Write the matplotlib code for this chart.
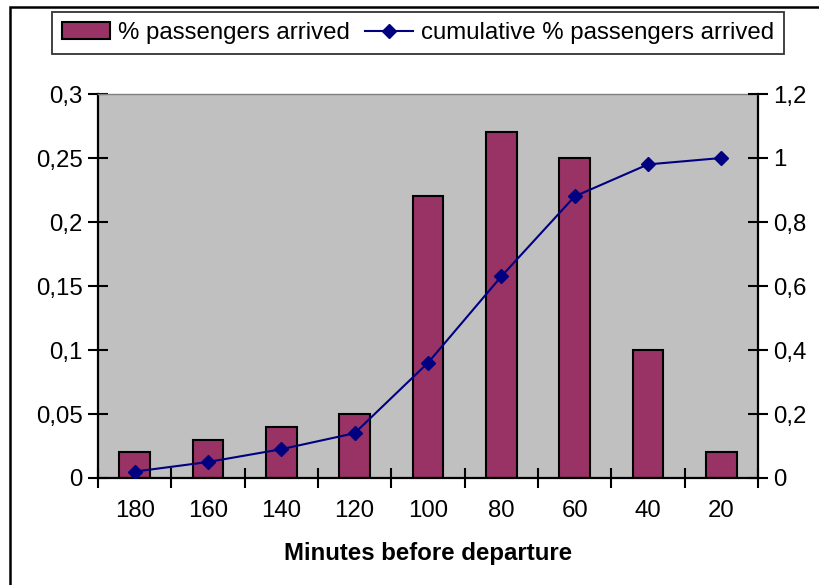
import matplotlib
matplotlib.use("Agg")
import matplotlib.pyplot as plt
from matplotlib.patches import Rectangle
from matplotlib.ticker import FixedLocator, FuncFormatter

# Data
minutes = ["180", "160", "140", "120", "100", "80", "60", "40", "20"]
pct_arrived = [0.02, 0.03, 0.04, 0.05, 0.22, 0.27, 0.25, 0.10, 0.02]
cum_arrived = [0.02, 0.05, 0.09, 0.14, 0.36, 0.63, 0.88, 0.98, 1.00]
left_ticks = [0, 0.05, 0.1, 0.15, 0.2, 0.25, 0.3]
right_ticks = [0, 0.2, 0.4, 0.6, 0.8, 1.0, 1.2]

plt.rcParams["font.family"] = ["Liberation Sans", "DejaVu Sans"]
FS = 17.3
W, H = 819, 585
fig = plt.figure(figsize=(W / 100, H / 100), dpi=100)

# outer chart border
fig.patches.append(Rectangle((10 / W, -0.1), 1.2, (585 - 7) / H + 0.1,
                             transform=fig.transFigure, fill=False,
                             edgecolor="black", linewidth=1.8))

ax = fig.add_axes([98 / W, (H - 478) / H, 660 / W, 384 / H])
ax.set_facecolor("#c0c0c0")
x = list(range(len(minutes)))
bars = ax.bar(x, pct_arrived, width=0.42, color="#993366", edgecolor="black",
              linewidth=1.5, label="% passengers arrived", zorder=2)
ax.set_xlim(-0.5, len(minutes) - 0.5)
ax.set_ylim(0, 0.3)

comma = FuncFormatter(lambda v, p: ("%g" % round(v, 3)).replace(".", ","))
ax.yaxis.set_major_locator(FixedLocator(left_ticks))
ax.yaxis.set_major_formatter(comma)
ax.set_xticks(x)
ax.set_xticklabels(minutes)
ax.tick_params(axis="x", which="major", length=0, pad=16, labelsize=FS)
ax.set_xticks([i - 0.5 for i in range(len(minutes) + 1)], minor=True)
ax.tick_params(axis="x", which="minor", direction="inout", length=14, width=1.5)
ax.tick_params(axis="y", direction="inout", length=14, width=1.5, labelsize=FS, pad=4)

for s in ["left", "right", "bottom"]:
    ax.spines[s].set_linewidth(1.6)
    ax.spines[s].set_color("black")
ax.spines["top"].set_color("#808080")
ax.spines["top"].set_linewidth(1.0)

ax2 = ax.twinx()
line, = ax2.plot(x, cum_arrived, color="#000080", linewidth=1.5, marker="D",
                 markersize=7, label="cumulative % passengers arrived", zorder=3)
ax2.set_ylim(0, 1.2)
ax2.yaxis.set_major_locator(FixedLocator(right_ticks))
ax2.yaxis.set_major_formatter(comma)
ax2.tick_params(axis="y", direction="inout", length=14, width=1.5, labelsize=FS, pad=4)
for s in ax2.spines.values():
    s.set_visible(False)

ax.set_xlabel("Minutes before departure", fontsize=FS, fontweight="bold", labelpad=14)

leg = fig.legend([bars, line], ["% passengers arrived", "cumulative % passengers arrived"],
                 ncol=2, loc="center", bbox_to_anchor=((56 + 780) / 2 / W, 1 - 33 / H),
                 frameon=True, fancybox=False, fontsize=FS, handlelength=2.0,
                 handletextpad=0.35, columnspacing=0.6, borderpad=0.4,
                 borderaxespad=0.2)
leg.get_frame().set_edgecolor("black")
leg.get_frame().set_linewidth(1.3)

fig.savefig("out.png", dpi=100)
